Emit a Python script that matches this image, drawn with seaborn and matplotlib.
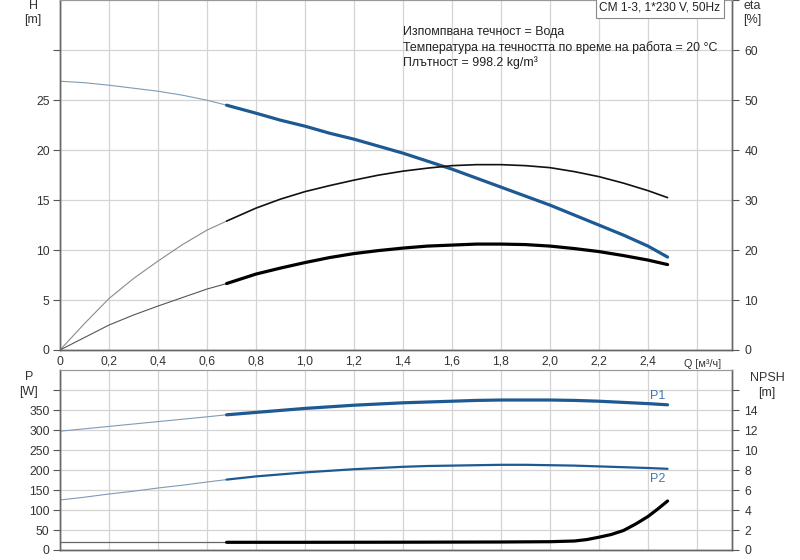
import numpy as np
import pandas as pd
import seaborn as sns
import matplotlib
matplotlib.use('Agg')
import matplotlib.pyplot as plt

# flow points [m3/h]; index 7 (0.68) is where the thin part ends
q = [0, 0.1, 0.2, 0.3, 0.4, 0.5, 0.6, 0.68, 0.8, 0.9, 1.0, 1.1, 1.2, 1.3,
     1.4, 1.5, 1.6, 1.7, 1.8, 1.9, 2.0, 2.1, 2.2, 2.3, 2.4, 2.48]
head = [26.9, 26.75, 26.5, 26.2, 25.9, 25.5, 25.0, 24.5, 23.7, 23.0, 22.4,
        21.7, 21.1, 20.4, 19.7, 18.9, 18.1, 17.2, 16.3, 15.4, 14.5, 13.5,
        12.5, 11.5, 10.4, 9.3]
eta_pump = [0, 5.3, 10.3, 14.3, 17.8, 21.1, 24.0, 25.8, 28.4, 30.2, 31.7,
            32.9, 34.0, 35.0, 35.8, 36.4, 36.9, 37.1, 37.1, 36.9, 36.5, 35.7,
            34.7, 33.4, 31.9, 30.5]
eta_total = [0, 2.5, 5.0, 7.0, 8.8, 10.5, 12.2, 13.3, 15.2, 16.4, 17.5,
             18.5, 19.3, 19.9, 20.4, 20.8, 21.0, 21.2, 21.2, 21.1, 20.8,
             20.3, 19.7, 18.9, 18.0, 17.1]
p1 = [297, 303, 309, 315, 321, 327, 333, 338, 344, 349, 354, 358, 362, 365,
      368, 370, 372, 374, 375, 375, 375, 374, 372, 369, 366, 363]
p2 = [125, 132, 140, 147, 155, 162, 170, 176, 184, 189, 194, 198, 202, 205,
      208, 210, 211, 212, 213, 213, 212, 211, 209, 207, 205, 203]

# NPSH read on its own, denser flow points near the steep end
q_npsh = [0, 0.68, 1.0, 1.4, 1.8, 2.0, 2.1, 2.15, 2.2, 2.25, 2.3, 2.35,
          2.4, 2.44, 2.48]
npsh = [0.77, 0.77, 0.77, 0.78, 0.8, 0.83, 0.9, 1.04, 1.28, 1.55, 1.95,
        2.6, 3.35, 4.1, 4.9]

q_ticks = [0, 0.2, 0.4, 0.6, 0.8, 1.0, 1.2, 1.4, 1.6, 1.8, 2.0, 2.2, 2.4]
q_grid = q_ticks + [2.6]
q_labels = ['0', '0,2', '0,4', '0,6', '0,8', '1,0', '1,2', '1,4', '1,6',
            '1,8', '2,0', '2,2', '2,4']

info_lines = ['Изпомпвана течност = Вода',
              'Температура на течността по време на работа = 20 °C',
              'Плътност = 998.2 kg/m³']
pump_name = 'CM 1-3, 1*230 V, 50Hz'

BLUE = '#1d5a93'
THIN_BLUE = '#7f9bb8'
THIN_GREY = '#8a8a8a'
SPLIT = 7

sns.set_style('white')
plt.rcParams['font.family'] = ['Liberation Sans', 'DejaVu Sans']

df = pd.DataFrame({'q': q, 'head': head, 'eta_pump': eta_pump,
                   'eta_total': eta_total, 'p1': p1, 'p2': p2})
thin = df.iloc[:SPLIT + 1]
thick = df.iloc[SPLIT:]
df_np = pd.DataFrame({'q': q_npsh, 'npsh': npsh})

fig = plt.figure(figsize=(8, 5.6), dpi=100)
ax_h = fig.add_axes([0.075, 0.375, 0.84, 0.6245])
ax_eta = ax_h.twinx()
ax_p = fig.add_axes([0.075, 0.01786, 0.84, 0.3214])
ax_np = ax_p.twinx()


def style_axes(ax, ax2, ylim, ylim2, ticks, ticks2, nlab, nlab2):
    ax.set_xlim(0, 2.743)
    ax.set_ylim(*ylim)
    ax2.set_ylim(*ylim2)
    ax.set_xticks(q_grid)
    ax.set_yticks(ticks)
    ax.set_yticklabels([str(t) if i < nlab else '' for i, t in enumerate(ticks)])
    ax2.set_yticks(ticks2)
    ax2.set_yticklabels([str(t) if i < nlab2 else '' for i, t in enumerate(ticks2)])
    ax.grid(True, color='#d4d4d4', linewidth=0.9)
    ax.set_axisbelow(True)
    for a in (ax, ax2):
        a.set_xlabel('')
        a.set_ylabel('')
        a.tick_params(axis='y', length=5, width=0.8, color='#555555',
                      labelsize=8.7, labelcolor='#333333', pad=2.5)
        for side in ('left', 'right', 'bottom'):
            a.spines[side].set_color('#666666')
            a.spines[side].set_linewidth(1.0)
        a.spines['top'].set_color('#999999')
        a.spines['top'].set_linewidth(0.8)
    ax2.tick_params(axis='y', pad=4)


# top panel: head (left) and efficiencies (right)
sns.lineplot(data=thin, x='q', y='head', ax=ax_h, color=THIN_BLUE, lw=0.8)
sns.lineplot(data=thick, x='q', y='head', ax=ax_h, color=BLUE, lw=2.3)
sns.lineplot(data=thin, x='q', y='eta_pump', ax=ax_eta, color=THIN_GREY, lw=0.8)
sns.lineplot(data=thick, x='q', y='eta_pump', ax=ax_eta, color='#111111', lw=1.2)
sns.lineplot(data=thin, x='q', y='eta_total', ax=ax_eta, color='#555555', lw=0.8)
sns.lineplot(data=thick, x='q', y='eta_total', ax=ax_eta, color='#000000', lw=2.3)

style_axes(ax_h, ax_eta, (0, 35), (0, 70), [0, 5, 10, 15, 20, 25, 30],
           [0, 10, 20, 30, 40, 50, 60, 70], 6, 7)
ax_h.set_xticklabels(q_labels + [''])
ax_h.tick_params(axis='x', length=0, labelsize=8.7, labelcolor='#333333', pad=4)
ax_eta.tick_params(axis='x', length=0)

# bottom panel: power (left) and NPSH (right)
sns.lineplot(data=thin, x='q', y='p1', ax=ax_p, color=THIN_BLUE, lw=0.8)
sns.lineplot(data=thick, x='q', y='p1', ax=ax_p, color=BLUE, lw=2.3)
sns.lineplot(data=thin, x='q', y='p2', ax=ax_p, color=THIN_BLUE, lw=0.8)
sns.lineplot(data=thick, x='q', y='p2', ax=ax_p, color=BLUE, lw=1.6)
sns.lineplot(data=df_np.iloc[:2], x='q', y='npsh', ax=ax_np, color='#666666', lw=0.9)
sns.lineplot(data=df_np.iloc[1:], x='q', y='npsh', ax=ax_np, color='#000000', lw=2.3)

style_axes(ax_p, ax_np, (0, 450), (0, 18), list(range(0, 401, 50)),
           list(range(0, 17, 2)), 8, 8)
ax_p.set_xticklabels([])
ax_p.tick_params(axis='x', length=0)
ax_np.tick_params(axis='x', length=0)

ax_p.text(q[-1] - 0.04, p1[-1] + 8, 'P1', color='#3f78b0', fontsize=9,
          ha='center', va='bottom')
ax_p.text(q[-1] - 0.04, p2[-1] - 10, 'P2', color='#3f78b0', fontsize=9,
          ha='center', va='top')

# axis captions
def px(x, y):
    return x / 800, 1 - y / 560

lab = dict(fontsize=9, color='#333333', ha='center', va='center')
fig.text(*px(33, 6), 'H', **lab)
fig.text(*px(33, 20), '[m]', **lab)
fig.text(*px(752, 6), 'eta', **lab)
fig.text(*px(752, 20), '[%]', **lab)
fig.text(*px(29, 377), 'P', **lab)
fig.text(*px(29, 392), '[W]', **lab)
fig.text(*px(767, 378), 'NPSH', **lab)
fig.text(*px(767, 393), '[m]', **lab)
fig.text(*px(703, 364), 'Q [м³/ч]', fontsize=7.8, color='#333333',
         ha='center', va='center')

for i, line in enumerate(info_lines):
    fig.text(*px(403, 32 + i * 15.5), line, fontsize=8.9, color='#222222',
             ha='left', va='center')

fig.text(*px(660, 8), pump_name, fontsize=8.6, color='#222222',
         ha='center', va='center',
         bbox=dict(boxstyle='square,pad=0.3', facecolor='white',
                   edgecolor='#888888', linewidth=0.8))

fig.savefig('out.png', dpi=100)
